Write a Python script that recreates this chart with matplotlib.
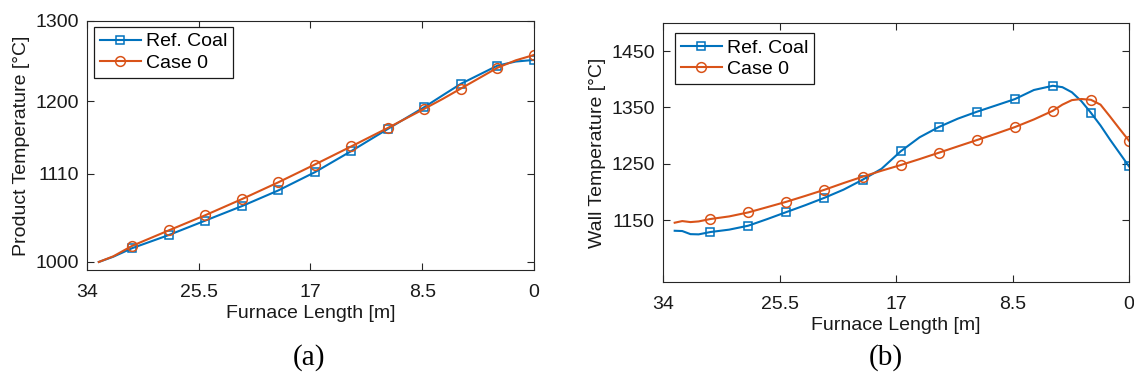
import matplotlib
matplotlib.use("Agg")
import matplotlib.pyplot as plt

plt.rcParams['font.family'] = ['Liberation Sans', 'DejaVu Sans']

# (a) product temperature along the furnace
len_a = [33.1, 32.0, 30.56, 27.78, 25.0, 22.22, 19.44, 16.67, 13.89, 11.11,
         8.33, 6.94, 5.56, 2.78, 1.39, 0]
prod_ref = [1000, 1006.5, 1017.2, 1033.5, 1051.5, 1069.5, 1089.1, 1111.7, 1138.1,
            1165.7, 1192.9, 1207.5, 1221.8, 1244.4, 1249.5, 1251.5]
prod_case0 = [1000, 1007, 1020.1, 1039.3, 1058.2, 1078.2, 1099.2, 1121.3, 1143.9,
              1166.9, 1190.8, 1203, 1215.9, 1241.8, 1251, 1257.7]

# (b) wall temperature along the furnace
len_b = [33.15, 32.6, 32.0, 31.4, 30.56, 29.17, 27.78, 26.39, 25.0, 23.61, 22.22,
         20.83, 19.44, 18.06, 16.67, 15.28, 13.89, 12.5, 11.11, 9.72, 8.33, 6.94,
         5.56, 4.86, 4.17, 3.47, 2.78, 2.08, 1.39, 0.69, 0]
wall_ref = [1131, 1130.5, 1125, 1124.6, 1128.7, 1133, 1140, 1151.8, 1164.2, 1176.5,
            1189.6, 1204, 1221.6, 1241, 1271.9, 1297, 1315.1, 1330, 1342.3, 1353.5,
            1364.8, 1381, 1388.5, 1386, 1377, 1361, 1340.5, 1318, 1293, 1269, 1245.3]
wall_case0 = [1145.3, 1148.2, 1146.4, 1147.6, 1151.8, 1156.5, 1163.6, 1173, 1182.5,
              1193, 1203.8, 1215.7, 1227, 1237.6, 1247.6, 1258.3, 1269.5, 1280.8,
              1292, 1303.3, 1315.1, 1328.7, 1344.1, 1355, 1363, 1365, 1363.6, 1355,
              1334, 1312, 1290.8]

# marker locations (every 2.78 m)
mark_at = [30.56, 27.78, 25.0, 22.22, 19.44, 16.67, 13.89, 11.11, 8.33, 5.56, 2.78, 0]

xticks = [34, 25.5, 17, 8.5, 0]
xtick_labels = ['34', '25.5', '17', '8.5', '0']
yticks_a = [1000, 1110, 1200, 1300]
yticks_b = [1150, 1250, 1350, 1450]

blue = '#0072BD'
orange = '#D95319'
dark = '#262626'

fig = plt.figure(figsize=(11.34, 3.8), dpi=100)
ax1 = fig.add_axes([0.0767, 0.2895, 0.3942, 0.6553])
ax2 = fig.add_axes([0.5847, 0.2579, 0.4109, 0.6816])


def draw(ax, x, ref, case0, yticks, ylim, ylabel, leg_anchor):
    idx = [i for i, v in enumerate(x) if v in mark_at]
    ax.plot(x, ref, color=blue, lw=1.5, marker='s', ms=5.5, mfc='none', mew=1.1,
            markevery=idx, label='Ref. Coal')
    ax.plot(x, case0, color=orange, lw=1.5, marker='o', ms=7, mfc='none', mew=1.1,
            markevery=idx, label='Case 0')
    ax.set_xlim(34, 0)
    ax.set_ylim(*ylim)
    ax.set_xticks(xticks)
    ax.set_xticklabels(xtick_labels)
    ax.set_yticks(yticks)
    ax.tick_params(direction='in', top=True, right=True, length=5, width=0.8,
                   labelsize=14, colors=dark, labelcolor='#1a1a1a')
    ax.tick_params(axis='x', pad=10)
    ax.tick_params(axis='y', pad=6)
    for s in ax.spines.values():
        s.set_color(dark)
        s.set_linewidth(0.8)
    ax.set_xlabel('Furnace Length [m]', fontsize=14, color='#1a1a1a', labelpad=3)
    ax.set_ylabel(ylabel, fontsize=14, color='#1a1a1a', labelpad=4)
    leg = ax.legend(loc='upper left', bbox_to_anchor=leg_anchor, borderaxespad=0,
                    fontsize=14, fancybox=False, framealpha=1, edgecolor='#1a1a1a',
                    handlelength=2.1, handletextpad=0.25, labelspacing=0.2,
                    borderpad=0.3)
    leg.get_frame().set_linewidth(0.9)


draw(ax1, len_a, prod_ref, prod_case0, yticks_a, (990, 1300),
     'Product Temperature [°C]', (0.016, 0.976))
draw(ax2, len_b, wall_ref, wall_case0, yticks_b, (1040, 1500),
     'Wall Temperature [°C]', (0.026, 0.961))

fig.text(0.2725, 0.058, '(a)', ha='center', va='center', fontsize=21,
         family='Liberation Serif')
fig.text(0.781, 0.058, '(b)', ha='center', va='center', fontsize=21,
         family='Liberation Serif')

fig.savefig('out.png', dpi=100)
